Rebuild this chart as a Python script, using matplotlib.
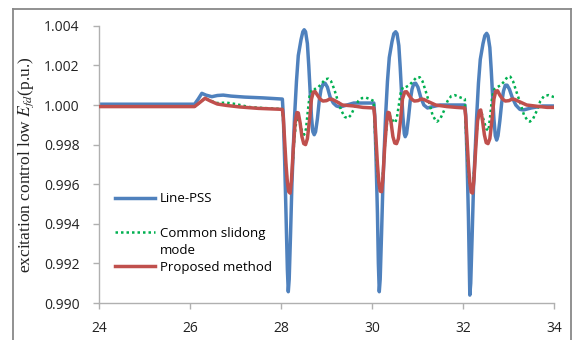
import matplotlib
matplotlib.use("Agg")
import matplotlib.pyplot as plt
from matplotlib.lines import Line2D

# time (s) / E_fd (p.u.)

# Line-PSS
pss_t = [24.0, 26.1, 26.18, 26.26, 26.35, 26.48, 26.6, 26.73, 26.9, 27.2, 27.6, 28.03,
         28.05, 28.08, 28.11, 28.14, 28.16, 28.18, 28.21, 28.24, 28.27, 28.30, 28.34, 28.38,
         28.44, 28.48, 28.51, 28.54, 28.58, 28.61, 28.64, 28.67, 28.70, 28.73, 28.76, 28.80,
         28.84, 28.88, 28.93, 28.97, 29.02, 29.08, 29.15, 29.22, 29.30, 29.45, 29.60, 29.80, 30.04,
         30.06, 30.09, 30.12, 30.14, 30.16, 30.18, 30.21, 30.24, 30.27, 30.30, 30.34, 30.38,
         30.44, 30.48, 30.52, 30.55, 30.59, 30.62, 30.65, 30.68, 30.71, 30.73, 30.76, 30.80,
         30.84, 30.88, 30.92, 30.96, 31.01, 31.07, 31.14, 31.22, 31.30, 31.50, 31.80, 32.04,
         32.06, 32.09, 32.12, 32.14, 32.15, 32.17, 32.20, 32.23, 32.27, 32.30, 32.34, 32.38,
         32.44, 32.48, 32.52, 32.55, 32.59, 32.62, 32.65, 32.68, 32.71, 32.74, 32.77, 32.81,
         32.85, 32.89, 32.93, 32.97, 33.02, 33.08, 33.16, 33.25, 33.33, 33.50, 33.75, 34.0]
pss_v = [1.00004, 1.00004, 1.0003, 1.00059, 1.0005, 1.00042, 1.00048, 1.0005, 1.00045, 1.0004, 1.00036, 1.0003,
         0.9995, 0.9972, 0.9945, 0.9917, 0.99057, 0.9912, 0.9935, 0.9960, 0.9978, 0.9995, 1.0012, 1.0025,
         1.0033, 1.0037, 1.0038, 1.0037, 1.0031, 1.0020, 1.0007, 0.9994, 0.99865, 0.9985, 0.99865, 0.9993,
         1.0002, 1.0008, 1.00108, 1.0011, 1.0009, 1.0004, 1.0001, 0.99995, 0.9999, 1.0000, 1.0001, 1.0001, 1.0001,
         0.9995, 0.9972, 0.9945, 0.9920, 0.99057, 0.9912, 0.9935, 0.9960, 0.9978, 0.9995, 1.0012, 1.0024,
         1.0032, 1.0036, 1.0037, 1.0036, 1.0030, 1.0019, 1.0006, 0.9994, 0.99855, 0.9984, 0.99855, 0.9993,
         1.0002, 1.0008, 1.00108, 1.0011, 1.0009, 1.0004, 1.0000, 0.99985, 0.9999, 1.0000, 1.0000, 1.0000,
         0.9995, 0.9972, 0.9943, 0.9917, 0.9904, 0.9910, 0.9933, 0.9958, 0.9978, 0.9994, 1.0011, 1.0023,
         1.0031, 1.0035, 1.00362, 1.0035, 1.0029, 1.0018, 1.0005, 0.9993, 0.99845, 0.99823, 0.99845, 0.9992,
         1.0001, 1.0007, 1.0010, 1.0010, 1.0008, 1.0004, 1.0000, 0.99978, 0.99975, 0.99985, 0.99995, 0.99995]

# common sliding mode
smc_t = [24.0, 26.1, 26.2, 26.33, 26.45, 26.6, 26.8, 27.0, 27.3, 27.6, 28.03,
         28.06, 28.10, 28.14, 28.18, 28.21, 28.25, 28.29, 28.33, 28.37, 28.41, 28.46, 28.51,
         28.55, 28.59, 28.63, 28.68, 28.74, 28.82, 28.90, 28.97, 29.04, 29.10, 29.17, 29.25,
         29.33, 29.40, 29.47, 29.54, 29.62, 29.70, 29.78, 29.87, 29.95, 30.04,
         30.06, 30.10, 30.14, 30.18, 30.21, 30.25, 30.29, 30.33, 30.37, 30.41, 30.46, 30.51,
         30.55, 30.59, 30.63, 30.68, 30.74, 30.82, 30.90, 30.98, 31.05, 31.11, 31.18, 31.26,
         31.33, 31.39, 31.43, 31.50, 31.58, 31.66, 31.74, 31.82, 31.92, 32.04,
         32.06, 32.10, 32.14, 32.18, 32.21, 32.25, 32.29, 32.33, 32.37, 32.41, 32.46, 32.51,
         32.56, 32.60, 32.64, 32.69, 32.75, 32.83, 32.91, 32.98, 33.04, 33.10, 33.17, 33.26,
         33.34, 33.41, 33.47, 33.54, 33.62, 33.70, 33.78, 33.88, 34.0]
smc_v = [0.99992, 0.99992, 1.0001, 1.00034, 1.00022, 1.0001, 1.00012, 1.00005, 0.9999, 0.99985, 0.9998,
         0.9988, 0.9972, 0.9961, 0.99565, 0.9958, 0.9968, 0.9982, 0.9991, 0.9994, 0.9992, 0.9987, 0.9985,
         0.9988, 0.9997, 1.0005, 1.0008, 1.0008, 1.0009, 1.0011, 1.0013, 1.00133, 1.0012, 1.0008, 1.0002,
         0.9997, 0.9994, 0.99933, 0.9995, 0.9999, 1.0002, 1.00035, 1.00037, 1.0003, 1.0002,
         0.9989, 0.9972, 0.9961, 0.99565, 0.9958, 0.9968, 0.9982, 0.9991, 0.9995, 0.9994, 0.9992, 0.9991,
         0.9994, 1.0000, 1.0006, 1.0009, 1.0009, 1.0010, 1.0012, 1.0014, 1.0014, 1.0012, 1.0007, 1.0001,
         0.9995, 0.99925, 0.99916, 0.9993, 0.9997, 1.0002, 1.00045, 1.0005, 1.0004, 1.0003,
         0.9989, 0.9972, 0.9961, 0.99565, 0.9958, 0.9968, 0.9983, 0.9993, 0.9997, 0.9996, 0.9992, 0.9988,
         0.9987, 0.9995, 1.0004, 1.0008, 1.0009, 1.0010, 1.0012, 1.00143, 1.00143, 1.0012, 1.0007, 1.0001,
         0.9995, 0.99925, 0.99916, 0.9993, 0.9997, 1.0002, 1.00045, 1.0005, 1.0004]

# proposed method
prop_t = [24.0, 26.1, 26.2, 26.33, 26.45, 26.6, 26.8, 27.1, 27.5, 28.03,
          28.05, 28.08, 28.11, 28.14, 28.17, 28.20, 28.23, 28.27, 28.31, 28.35, 28.38, 28.42,
          28.46, 28.50, 28.54, 28.58, 28.63, 28.67, 28.71, 28.75, 28.80, 28.86, 28.92, 29.00,
          29.07, 29.13, 29.20, 29.35, 29.60, 29.80, 30.04,
          30.06, 30.09, 30.12, 30.15, 30.18, 30.21, 30.24, 30.28, 30.32, 30.35, 30.38, 30.42,
          30.46, 30.50, 30.54, 30.58, 30.63, 30.67, 30.72, 30.76, 30.81, 30.87, 30.93, 31.01,
          31.08, 31.14, 31.21, 31.40, 31.65, 31.85, 32.04,
          32.06, 32.09, 32.12, 32.15, 32.18, 32.21, 32.24, 32.28, 32.32, 32.36, 32.39, 32.43,
          32.47, 32.51, 32.55, 32.59, 32.64, 32.68, 32.72, 32.76, 32.81, 32.87, 32.93, 33.01,
          33.08, 33.14, 33.21, 33.40, 33.65, 33.85, 34.0]
prop_v = [0.99992, 0.99992, 1.0001, 1.00034, 1.0002, 1.00005, 0.99998, 0.9999, 0.99983, 0.99978,
          0.9994, 0.9982, 0.9970, 0.9961, 0.99562, 0.99555, 0.9962, 0.9978, 0.9991, 0.99962, 0.9996, 0.9991,
          0.9984, 0.99805, 0.9980, 0.9983, 0.9993, 1.0003, 1.00065, 1.00068, 1.0005, 1.0003, 1.0002, 1.00022,
          1.0003, 1.00028, 1.0002, 1.0000, 0.99995, 0.99988, 0.99985,
          0.9994, 0.9982, 0.9970, 0.9961, 0.99565, 0.99562, 0.9963, 0.9979, 0.9991, 0.99963, 0.9996, 0.9991,
          0.9984, 0.99808, 0.99805, 0.9983, 0.9993, 1.0003, 1.00066, 1.00067, 1.0005, 1.0003, 1.0002, 1.00022,
          1.0003, 1.00028, 1.0002, 1.0000, 0.99992, 0.99988, 0.99985,
          0.9994, 0.9982, 0.9970, 0.9961, 0.9956, 0.99555, 0.9962, 0.9978, 0.9992, 0.9997, 0.99975, 0.9992,
          0.9985, 0.9981, 0.99805, 0.9983, 0.9993, 1.0003, 1.0007, 1.00072, 1.0005, 1.0003, 1.0002, 1.00022,
          1.0003, 1.00028, 1.0002, 1.0000, 0.99993, 0.99988, 0.99988]

x_ticks = [24, 26, 28, 30, 32, 34]
y_ticks = [0.990, 0.992, 0.994, 0.996, 0.998, 1.000, 1.002, 1.004]

plt.rcParams['font.family'] = ['Open Sans', 'DejaVu Sans']
plt.rcParams['mathtext.fontset'] = 'stix'

fig = plt.figure(figsize=(5.72, 3.40), dpi=100)
ax = fig.add_axes([0.1731, 0.1088, 0.7954, 0.8153])

l1, = ax.plot(pss_t, pss_v, color='#4F81BD', lw=2.5, zorder=2)
l2, = ax.plot(smc_t, smc_v, color='#00B050', lw=1.8, linestyle=(0, (1, 1.2)), zorder=3)
l3, = ax.plot(prop_t, prop_v, color='#C0504D', lw=2.5, zorder=4)

ax.set_xlim(24, 34)
ax.set_ylim(0.990, 1.004)
ax.set_xticks(x_ticks)
ax.set_xticklabels([str(v) for v in x_ticks])
ax.set_yticks(y_ticks)
ax.set_yticklabels(['%.3f' % v for v in y_ticks])

for s in ['top', 'right']:
    ax.spines[s].set_visible(False)
for s in ['left', 'bottom']:
    ax.spines[s].set_color('#b0b0b0')
    ax.spines[s].set_linewidth(1.0)
ax.tick_params(direction='out', length=4, width=1.0, color='#b0b0b0',
               labelsize=10, labelcolor='#222222')
ax.tick_params(axis='y', pad=10)
ax.tick_params(axis='x', pad=9)

ax.set_ylabel('excitation control low $E_{fd}$(p.u.)', family='Liberation Serif',
              fontsize=12.5, color='#222222')
ax.yaxis.set_label_coords(-0.138, 0.5)

# legend: second label wraps onto a second row, one blank row after Line-PSS
blank = Line2D([], [], color='none')
ax.legend([l1, blank, l2, blank, l3],
          ['Line-PSS', ' ', 'Common slidong', 'mode', 'Proposed method'],
          loc='upper left', bbox_to_anchor=(0.035, 0.40), frameon=False,
          fontsize=9.5, handlelength=3.0, handletextpad=0.4, labelspacing=0.32,
          borderpad=0, borderaxespad=0)

# chart-area border
fc = '#888888'
fig.add_artist(Line2D([13 / 572, 13 / 572], [0, 1 - 9 / 340], transform=fig.transFigure, color=fc, lw=1.3))
fig.add_artist(Line2D([13 / 572, 571 / 572], [1 - 9 / 340, 1 - 9 / 340], transform=fig.transFigure, color=fc, lw=1.3))
fig.add_artist(Line2D([571 / 572, 571 / 572], [0, 1 - 9 / 340], transform=fig.transFigure, color=fc, lw=1.3))

fig.savefig('out.png', dpi=100)
